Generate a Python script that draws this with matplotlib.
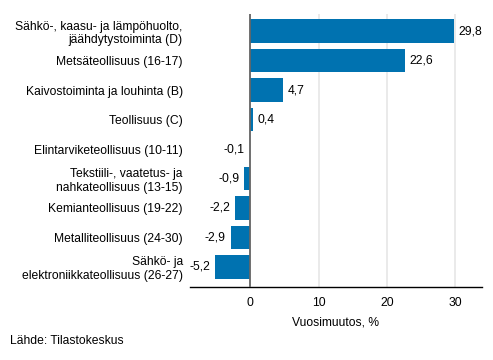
import matplotlib
matplotlib.use("Agg")
import matplotlib.pyplot as plt

plt.rcParams['font.family'] = ['Liberation Sans', 'DejaVu Sans']
plt.rcParams['font.size'] = 8.7

categories = [
    "Sähkö-, kaasu- ja lämpöhuolto,\njäähdytystoiminta (D)",
    "Metsäteollisuus (16-17)",
    "Kaivostoiminta ja louhinta (B)",
    "Teollisuus (C)",
    "Elintarviketeollisuus (10-11)",
    "Tekstiili-, vaatetus- ja\nnahkateollisuus (13-15)",
    "Kemianteollisuus (19-22)",
    "Metalliteollisuus (24-30)",
    "Sähkö- ja\nelektroniikkateollisuus (26-27)",
]
values = [29.8, 22.6, 4.7, 0.4, -0.1, -0.9, -2.2, -2.9, -5.2]
xticks = [0, 10, 20, 30]

bar_color = "#0072b0"

fig = plt.figure(figsize=(4.93, 3.6), dpi=100)
ax = fig.add_axes([0.385, 0.203, 0.593, 0.758])

pos = list(range(len(values)))
ax.barh(pos, values, height=0.8, color=bar_color, zorder=3)

for p, v in zip(pos, values):
    lab = ("%.1f" % v).replace(".", ",")
    if v >= 0:
        ax.text(v + 0.7, p, lab, va="center", ha="left", zorder=4)
    else:
        ax.text(v - 0.7, p, lab, va="center", ha="right", zorder=4)

ax.set_xlim(-8.87, 33.9)
ax.set_ylim(8.68, -0.58)
ax.set_yticks(pos)
ax.set_yticklabels(categories, ha="right", multialignment="right")
ax.set_xticks(xticks)
ax.set_xticklabels([str(t) for t in xticks])
ax.tick_params(axis="y", length=0, pad=5)
ax.tick_params(axis="x", length=0, pad=7)

ax.grid(axis="x", color="#e6e6e6", linewidth=1.2, zorder=0)
ax.axvline(0, color="#666666", linewidth=1.3, zorder=5)

for s in ["top", "right", "left"]:
    ax.spines[s].set_visible(False)
ax.spines["bottom"].set_color("#000000")
ax.spines["bottom"].set_linewidth(1)

ax.set_xlabel("Vuosimuutos, %", labelpad=6)

fig.text(10 / 493, 1 - 341 / 360, "Lähde: Tilastokeskus", ha="left", va="center")

fig.savefig("out.png", dpi=100)
